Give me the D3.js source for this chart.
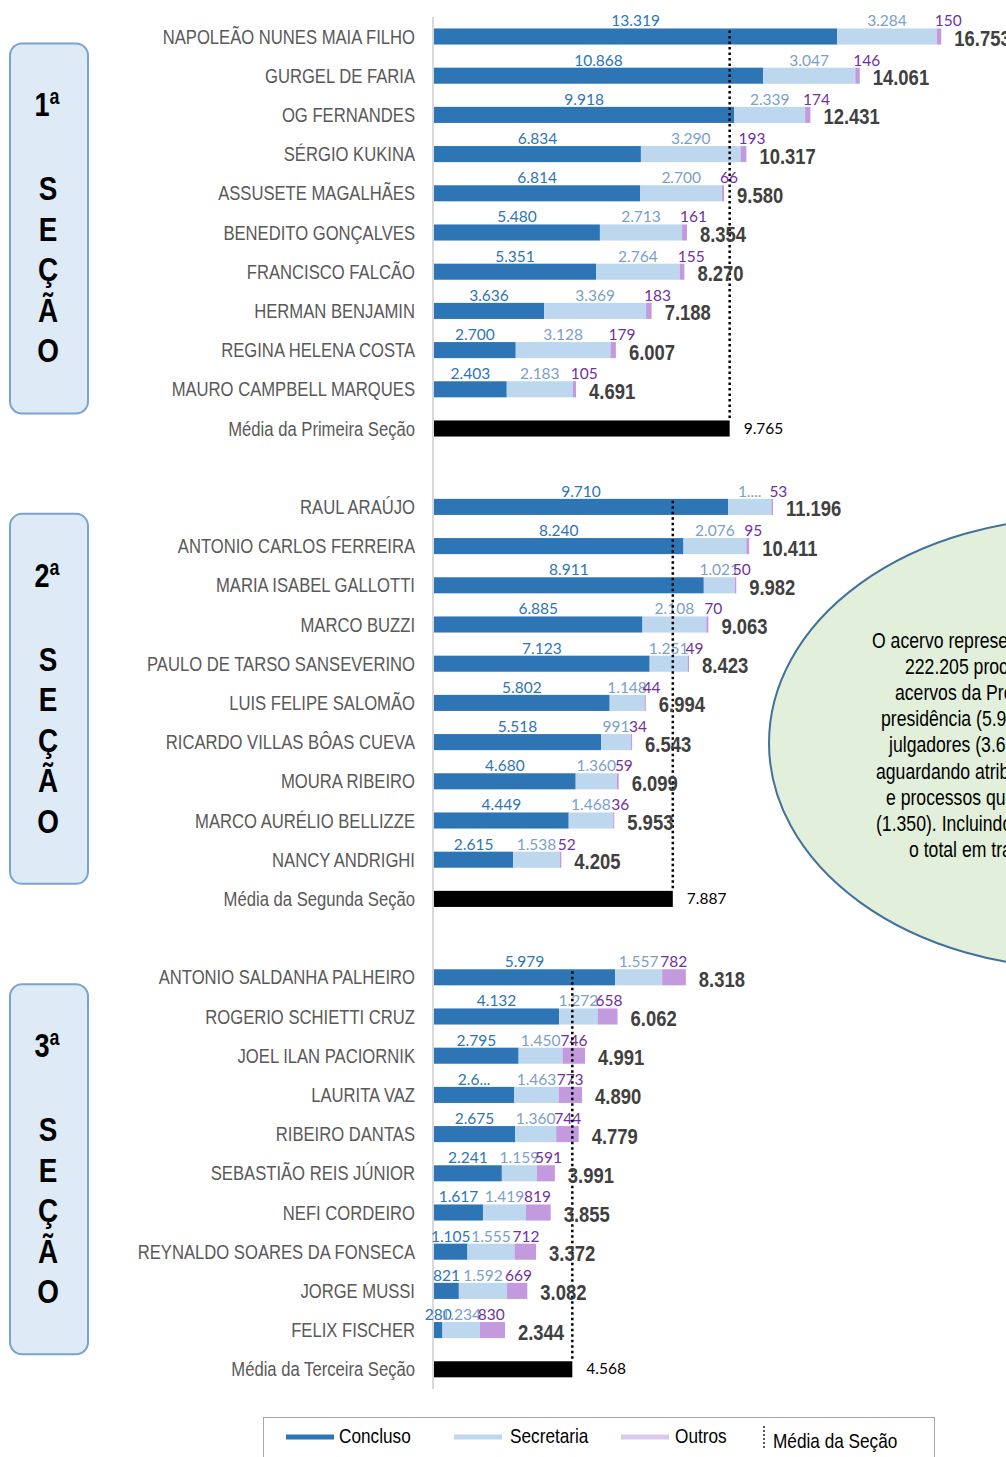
<!DOCTYPE html>
<html>
<head>
<meta charset="utf-8">
<script src="https://cdn.jsdelivr.net/npm/d3@7"></script>
<style>
  body { margin: 0; background: #fff; }
  svg { display: block; }
</style>
</head>
<body>
<svg id="chart" width="1006" height="1457"></svg>
<script>
// ---- data ----
const sec1Names = ['NAPOLEÃO NUNES MAIA FILHO', 'GURGEL DE FARIA', 'OG FERNANDES', 'SÉRGIO KUKINA',
  'ASSUSETE MAGALHÃES', 'BENEDITO GONÇALVES', 'FRANCISCO FALCÃO', 'HERMAN BENJAMIN',
  'REGINA HELENA COSTA', 'MAURO CAMPBELL MARQUES'];
const sec1Concluso = [13319, 10868, 9918, 6834, 6814, 5480, 5351, 3636, 2700, 2403];
const sec1Secretaria = [3284, 3047, 2339, 3290, 2700, 2713, 2764, 3369, 3128, 2183];
const sec1Outros = [150, 146, 174, 193, 66, 161, 155, 183, 179, 105];

const sec2Names = ['RAUL ARAÚJO', 'ANTONIO CARLOS FERREIRA', 'MARIA ISABEL GALLOTTI', 'MARCO BUZZI',
  'PAULO DE TARSO SANSEVERINO', 'LUIS FELIPE SALOMÃO', 'RICARDO VILLAS BÔAS CUEVA',
  'MOURA RIBEIRO', 'MARCO AURÉLIO BELLIZZE', 'NANCY ANDRIGHI'];
const sec2Concluso = [9710, 8240, 8911, 6885, 7123, 5802, 5518, 4680, 4449, 2615];
const sec2Secretaria = [1433, 2076, 1021, 2108, 1251, 1148, 991, 1360, 1468, 1538];
const sec2Outros = [53, 95, 50, 70, 49, 44, 34, 59, 36, 52];

const sec3Names = ['ANTONIO SALDANHA PALHEIRO', 'ROGERIO SCHIETTI CRUZ', 'JOEL ILAN PACIORNIK',
  'LAURITA VAZ', 'RIBEIRO DANTAS', 'SEBASTIÃO REIS JÚNIOR', 'NEFI CORDEIRO',
  'REYNALDO SOARES DA FONSECA', 'JORGE MUSSI', 'FELIX FISCHER'];
const sec3Concluso = [5979, 4132, 2795, 2654, 2675, 2241, 1617, 1105, 821, 280];
const sec3Secretaria = [1557, 1272, 1450, 1463, 1360, 1159, 1419, 1555, 1592, 1234];
const sec3Outros = [782, 658, 746, 773, 744, 591, 819, 712, 669, 830];

const sectionMeans = [9765, 7887, 4568];
const meanLabels = ['Média da Primeira Seção', 'Média da Segunda Seção', 'Média da Terceira Seção'];
const sectionTitles = ['1ª', '2ª', '3ª'];
const sectionWord = ['S', 'E', 'Ç', 'Ã', 'O'];

// labels that excel cut short in the original
const truncatedLabels = [
  { name: 'RAUL ARAÚJO', key: 'secretaria', text: '1....' },
  { name: 'LAURITA VAZ', key: 'concluso', text: '2.6...' }
];

const legendItems = ['Concluso', 'Secretaria', 'Outros', 'Média da Seção'];

const noteLines = ['O acervo representa', '222.205 processos', 'acervos da Presidência',
  'presidência (5.9', 'julgadores (3.6', 'aguardando atribuição', 'e processos que',
  '(1.350). Incluindo', 'o total em tramitação'];

// ---- colours / fonts ----
const colConcluso = '#2e75b6';
const colSecretaria = '#bdd7ee';
const colOutros = '#c39ade';
// no arial narrow installed -> squeeze liberation sans instead
const arial = "'Liberation Sans', Arial, sans-serif";
const squeeze = 0.82;
const labelFont = "Lato, 'Open Sans', sans-serif";

const ptBR = d3.formatLocale({ decimal: ',', thousands: '.', grouping: [3], currency: ['R$', ''] });
const fmt = ptBR.format(',d');

// places a text at (x,y) and squeezes it horizontally
function narrowAt(sel, fx, fy) {
  sel.attr('x', 0).attr('y', 0)
    .attr('transform', (d, i) => `translate(${fx(d, i)},${fy(d, i)}) scale(${squeeze},1)`)
    .attr('font-family', arial);
}

// build the sections
const sections = [
  { names: sec1Names, c: sec1Concluso, s: sec1Secretaria, o: sec1Outros },
  { names: sec2Names, c: sec2Concluso, s: sec2Secretaria, o: sec2Outros },
  { names: sec3Names, c: sec3Concluso, s: sec3Secretaria, o: sec3Outros }
].map((sec, si) => ({
  title: sectionTitles[si],
  mean: sectionMeans[si],
  meanLabel: meanLabels[si],
  rows: sec.names.map((n, i) => ({
    name: n, concluso: sec.c[i], secretaria: sec.s[i], outros: sec.o[i],
    total: sec.c[i] + sec.s[i] + sec.o[i]
  }))
}));

// row keys: judges, then the mean row, then an empty gap row
const rowKeys = [];
sections.forEach((sec, si) => {
  sec.rows.forEach(r => rowKeys.push(r.name));
  rowKeys.push(sec.meanLabel);
  if (si < sections.length - 1) rowKeys.push('gap' + si);
});

const svg = d3.select('#chart');

const y = d3.scaleBand()
  .domain(rowKeys)
  .range([16.9, 16.9 + rowKeys.length * 39.2])
  .paddingInner(0.59)
  .paddingOuter(0.295);

const x = d3.scaleLinear()
  .domain([0, 18000])
  .range([434, 979]);

const bw = y.bandwidth();

// left axis line
svg.append('line')
  .attr('x1', 433).attr('x2', 433)
  .attr('y1', y.range()[0]).attr('y2', y.range()[1])
  .attr('stroke', '#d9d9d9')
  .attr('stroke-width', 2);

// note ellipse (sits behind the labels)
svg.append('ellipse')
  .attr('cx', 1079).attr('cy', 743)
  .attr('rx', 310).attr('ry', 225)
  .attr('fill', '#e2efda')
  .attr('stroke', '#41719c')
  .attr('stroke-width', 2);

const noteX = [872, 905, 895, 881, 889, 876, 886, 876, 909];
svg.append('g').selectAll('text')
  .data(noteLines)
  .enter().append('text')
  .call(narrowAt, (d, i) => noteX[i], (d, i) => 648 + i * 26.1)
  .attr('font-size', 21.5)
  .attr('fill', '#000')
  .text(d => d);

function labelText(row, key) {
  const t = truncatedLabels.find(l => l.name === row.name && l.key === key);
  return t ? t.text : fmt(row[key]);
}

sections.forEach((sec, si) => {
  const g = svg.append('g');

  // section box
  const top = y(sec.rows[0].name) + 15;
  const bottom = y(sec.meanLabel) - 7;
  g.append('rect')
    .attr('x', 10).attr('y', top)
    .attr('width', 78).attr('height', bottom - top)
    .attr('rx', 12)
    .attr('fill', '#deebf7')
    .attr('stroke', '#7ba3cf')
    .attr('stroke-width', 2);

  g.append('text')
    .call(narrowAt, () => 47, () => top + 73)
    .attr('text-anchor', 'middle')
    .attr('font-weight', 'bold')
    .attr('font-size', 33)
    .text(sec.title);

  g.selectAll('.letter')
    .data(sectionWord)
    .enter().append('text')
    .attr('class', 'letter')
    .call(narrowAt, () => 48, (d, i) => top + 157 + i * 40.5)
    .attr('text-anchor', 'middle')
    .attr('font-weight', 'bold')
    .attr('font-size', 34)
    .text(d => d);

  // category labels
  g.selectAll('.cat')
    .data(sec.rows.map(r => r.name).concat([sec.meanLabel]))
    .enter().append('text')
    .attr('class', 'cat')
    .call(narrowAt, () => 415, d => y(d) + bw / 2 + 7)
    .attr('text-anchor', 'end')
    .attr('font-size', 20.3)
    .attr('fill', '#595959')
    .text(d => d);

  // stacked bars
  const parts = [
    { key: 'concluso', color: colConcluso, start: r => 0 },
    { key: 'secretaria', color: colSecretaria, start: r => r.concluso },
    { key: 'outros', color: colOutros, start: r => r.concluso + r.secretaria }
  ];
  parts.forEach(p => {
    g.selectAll('.bar-' + p.key)
      .data(sec.rows)
      .enter().append('rect')
      .attr('class', 'bar-' + p.key)
      .attr('x', r => x(p.start(r)))
      .attr('y', r => y(r.name))
      .attr('width', r => x(p.start(r) + r[p.key]) - x(p.start(r)))
      .attr('height', bw)
      .attr('fill', p.color);
  });

  // value labels above each segment (outros label starts at its segment)
  const labelCols = { concluso: '#2e75b6', secretaria: '#7ba0cb', outros: '#7030a0' };
  parts.forEach(p => {
    const isOutros = p.key === 'outros';
    g.selectAll('.lab-' + p.key)
      .data(sec.rows)
      .enter().append('text')
      .attr('class', 'lab-' + p.key)
      .attr('x', r => isOutros ? x(p.start(r)) - 2 : x(p.start(r) + r[p.key] / 2))
      .attr('y', r => y(r.name) - 2)
      .attr('text-anchor', isOutros ? 'start' : 'middle')
      .attr('font-family', labelFont)
      .attr('font-size', 15.5)
      .attr('fill', labelCols[p.key])
      .text(r => labelText(r, p.key));
  });

  // mean bar
  g.append('rect')
    .attr('x', x(0))
    .attr('y', y(sec.meanLabel))
    .attr('width', x(sec.mean) - x(0))
    .attr('height', bw)
    .attr('fill', '#000');

  g.append('text')
    .attr('x', x(sec.mean) + 14)
    .attr('y', y(sec.meanLabel) + bw / 2 + 5)
    .attr('font-family', labelFont)
    .attr('font-size', 15.5)
    .attr('fill', '#000')
    .text(fmt(sec.mean));

  // dotted mean line
  g.append('line')
    .attr('x1', x(sec.mean)).attr('x2', x(sec.mean))
    .attr('y1', y(sec.rows[0].name) + 2)
    .attr('y2', y(sec.meanLabel))
    .attr('stroke', '#000')
    .attr('stroke-width', 2.5)
    .attr('stroke-dasharray', '2.5,3');

  // totals, drawn last so they sit on top of the dotted line
  g.selectAll('.tot')
    .data(sec.rows)
    .enter().append('text')
    .attr('class', 'tot')
    .call(narrowAt, r => x(r.total) + 13, r => y(r.name) + bw / 2 + 9.5)
    .attr('font-weight', 'bold')
    .attr('font-size', 22.5)
    .attr('fill', '#404040')
    .text(r => fmt(r.total));
});

// legend
const legend = svg.append('g');
legend.append('rect')
  .attr('x', 263.5).attr('y', 1417.5)
  .attr('width', 671).attr('height', 60)
  .attr('fill', '#fff')
  .attr('stroke', '#a6a6a6');

const swatchX = [286, 454, 621];
const swatchCol = [colConcluso, colSecretaria, '#dcc8ee'];
legend.selectAll('.sw')
  .data(legendItems.slice(0, 3))
  .enter().append('rect')
  .attr('class', 'sw')
  .attr('x', (d, i) => swatchX[i])
  .attr('y', 1434.5)
  .attr('width', 48).attr('height', 5)
  .attr('fill', (d, i) => swatchCol[i]);

legend.append('line')
  .attr('x1', 764).attr('x2', 764)
  .attr('y1', 1426).attr('y2', 1450)
  .attr('stroke', '#595959')
  .attr('stroke-width', 2)
  .attr('stroke-dasharray', '2,2');

const legTextX = [339, 510, 675, 773];
legend.selectAll('.lt')
  .data(legendItems)
  .enter().append('text')
  .attr('class', 'lt')
  .call(narrowAt, (d, i) => legTextX[i], (d, i) => i === 3 ? 1448 : 1443)
  .attr('font-size', 21)
  .attr('fill', '#000')
  .text(d => d);
</script>
</body>
</html>
